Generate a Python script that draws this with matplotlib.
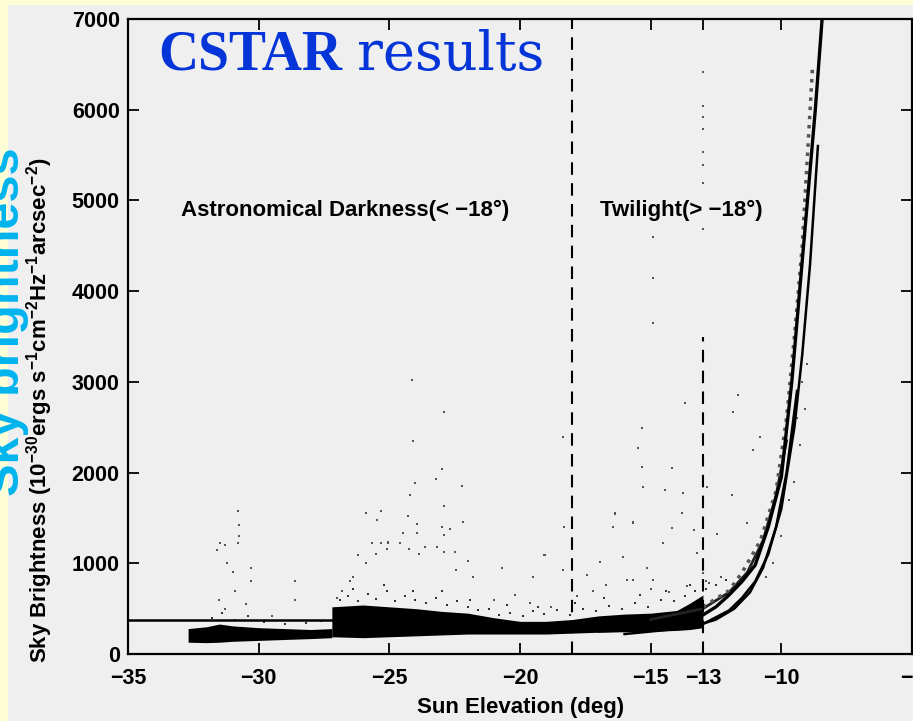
import matplotlib.pyplot as plt
from matplotlib.patches import Rectangle

plt.rcParams['font.family'] = ['Liberation Sans', 'DejaVu Sans']
plt.rcParams['mathtext.fontset'] = 'custom'
plt.rcParams['mathtext.rm'] = 'Liberation Sans:bold'
plt.rcParams['mathtext.default'] = 'rm'

# Data
# steady sky level before -27 deg
level_x = [-35, -27.2]
level_y = [370, 370]

# dense band of measurements, early part (-32.7 .. -27.2)
bandA_x = [-32.7, -32.0, -31.5, -31.0, -30.0, -29.0, -28.0, -27.2]
bandA_lo = [130, 125, 130, 140, 150, 160, 170, 180]
bandA_hi = [280, 300, 330, 310, 290, 280, 270, 280]

# dense band of measurements, main part (-27.2 .. -13)
bandB_x = [-27.2, -26, -25, -24, -23, -22, -21, -20, -19, -18, -17, -16, -15, -14, -13.5, -13]
bandB_lo = [190, 180, 190, 200, 210, 220, 220, 220, 220, 230, 240, 245, 250, 260, 270, 290]
bandB_hi = [520, 540, 520, 500, 470, 450, 400, 360, 360, 380, 420, 440, 450, 480, 560, 650]

# twilight curves
main_x = [-17, -15, -13.5, -13, -12.5, -12, -11.5, -11, -10.5, -10, -9.6, -9.3, -9.0, -8.7, -8.44]
main_y = [330, 340, 390, 430, 520, 650, 800, 980, 1400, 1950, 3000, 4000, 5000, 6000, 7000]
c2_x = [-17, -14, -13, -12, -11.5, -11, -10.5, -10, -9.5, -9.2, -8.9, -8.6]
c2_y = [250, 280, 330, 480, 620, 800, 1100, 1600, 2500, 3300, 4300, 5600]
c3_x = [-16, -13.5, -12.5, -11.8, -11.2, -10.7, -10.2, -9.8, -9.4]
c3_y = [220, 290, 380, 500, 680, 950, 1400, 2000, 2900]
c4_x = [-13, -12, -11.5, -10.8, -10.2, -9.8, -9.5, -9.2, -9.0, -8.8]
c4_y = [520, 700, 900, 1250, 1800, 2600, 3500, 4500, 5500, 6500]
c5_x = [-15, -13, -12, -11.3, -10.7, -10.2, -9.8]
c5_y = [380, 500, 680, 900, 1250, 1750, 2350]

# sparse outlying points
dots_x = [-24.14, -22.92, -24.1, -18.35, -23.0, -23.2, -24.03, -22.23, -24.2, -22.9,
          -30.79, -25.9, -25.3, -30.76, -22.2, -25.47, -24.27, -23.95, -30.76, -31.48,
          -31.29, -31.6, -30.78, -18.3, -19.08, -20.68, -26.2, -25.66, -25.3, -25.06,
          -24.6, -25.5, -25.1, -24.23, -23.85, -23.62, -23.17, -22.92, -22.49, -21.98,
          -22.68, -22.98, -22.92, -24.46, -23.93, -25.89, -16.36, -14.45, -13.75, -15.3,
          -15.66, -16.43, -13.36, -13.24, -14.51, -26.38, -25.68, -25.04, -24.6, -23.19,
          -22.43, -21.79, -20.7, -19.49, -19.04, -18.34, -17.45, -16.94, -16.04, -15.15,
          -14.9, -15.66, -13.0, -12.75, -15.32, -15.47, -15.34, -14.2, -13.68, -14.45,
          -13.81, -12.85, -11.9, -11.84, -11.65, -11.07, -10.82, -11.32, -16.36, -15.66,
          -14.19, -12.47, -13.0, -13.0, -13.0, -13.0, -13.0, -13.0, -13.0, -13.0,
          -14.9, -14.9, -14.9, -31.0, -31.2, -30.9, -31.5, -30.3, -30.3, -28.6,
          -28.6, -31.3, -30.5, -29.5, -26.8, -26.5, -27.0, -21.0, -20.2, -19.6,
          -17.8, -17.2, -16.7, -15.9, -15.0, -14.3, -13.6, -12.9, -12.3, -18.8,
          -9.1, -9.3, -9.5, -9.7, -10.0, -10.3, -10.6, -9.0, -9.2, -9.4]
dots_y = [3020, 2668, 2352, 2390, 2040, 1933, 1885, 1856, 1756, 1632,
          1580, 1555, 1580, 1422, 1455, 1477, 1521, 1337, 1300, 1227,
          1202, 1147, 1227, 1404, 1092, 945, 1092, 1227, 1227, 1227,
          1227, 1103, 1154, 1154, 1103, 1176, 1176, 1129, 1129, 1029,
          1378, 1404, 1312, 1330, 1433, 1000, 1547, 1808, 1771, 1838,
          1448, 1404, 1367, 1110, 1220, 852, 1220, 1240, 1220, 1184,
          926, 852, 945, 852, 1092, 926, 871, 1018, 1073, 945,
          816, 816, 890, 779, 2488, 2268, 2058, 2047, 2764, 1808,
          1551, 1845, 1753, 2671, 2856, 2250, 2396, 1440, 1551, 1459,
          1385, 1327, 6420, 6040, 5920, 5790, 5535, 5390, 5190, 4685,
          3650, 4150, 4600, 900, 1000, 700, 600, 800, 950, 800,
          600, 500, 550, 420, 700, 800, 620, 600, 650, 560,
          640, 700, 760, 820, 720, 680, 750, 800, 850, 520,
          2700, 2300, 1900, 1700, 1300, 1000, 850, 3200, 3000, 2600]

# points crowding just above the dense band
near_x = [-26.9, -26.6, -26.2, -25.8, -25.5, -25.1, -24.8, -24.4, -24.0, -23.6,
          -23.2, -22.8, -22.4, -22.0, -21.6, -21.2, -20.8, -20.4, -19.9, -19.5,
          -19.1, -18.6, -18.1, -17.6, -17.1, -16.6, -16.1, -15.6, -15.1, -14.6,
          -14.1, -13.7, -13.3, -12.9, -12.5, -12.1, -26.4, -25.2, -24.1, -23.0,
          -21.9, -20.5, -19.3, -17.9, -16.8, -15.4, -14.4, -13.5, -31.8, -31.4,
          -30.9, -30.4, -29.8, -29.0, -28.2, -27.6]
near_y = [600, 640, 580, 660, 610, 700, 580, 640, 600, 560,
          620, 540, 580, 520, 480, 500, 430, 450, 420, 470,
          440, 480, 430, 500, 470, 530, 500, 560, 520, 600,
          580, 640, 690, 720, 760, 820, 720, 760, 700, 690,
          600, 540, 520, 560, 620, 650, 700, 760, 400, 450,
          380, 420, 350, 330, 340, 360]

fig = plt.figure(figsize=(9.13, 7.21), dpi=100)
fig.patch.set_facecolor('#FEFED6')
fig.add_artist(Rectangle((8 / 913, 0), 1, (721 - 5) / 721, transform=fig.transFigure,
                         facecolor='#EFEFEF', edgecolor='none', zorder=0))

ax = fig.add_axes([128 / 913, 67 / 721, 784 / 913, 635 / 721])
ax.set_facecolor('#EFEFEF')

ax.plot(level_x, level_y, color='black', lw=1.8)
ax.scatter(dots_x, dots_y, s=3, marker='s', color='#555555', linewidths=0)
ax.scatter(near_x, near_y, s=3, marker='s', color='#333333', linewidths=0)
ax.fill_between(bandA_x, bandA_lo, bandA_hi, color='black', lw=0)
ax.fill_between(bandB_x, bandB_lo, bandB_hi, color='black', lw=0)
ax.plot(c5_x, c5_y, color='#222222', lw=2)
ax.plot(c4_x, c4_y, color='#555555', lw=2.5, ls=':')
ax.plot(c3_x, c3_y, color='black', lw=1.8)
ax.plot(c2_x, c2_y, color='black', lw=1.8)
ax.plot(main_x, main_y, color='black', lw=2.4)

ax.axvline(-18, color='black', lw=1.5, dashes=(6, 4))
ax.plot([-13, -13], [0, 3500], color='black', lw=1.5, dashes=(6, 4))

ax.set_xlim(-35, -5)
ax.set_ylim(0, 7000)
ax.set_xticks([-35, -30, -25, -20, -15, -13, -10, -5])
ax.set_yticks([0, 1000, 2000, 3000, 4000, 5000, 6000, 7000])
ax.tick_params(direction='in', length=8, width=1.3, top=True, right=True,
               labelsize=15.5)
ax.tick_params(axis='x', pad=10)
ax.tick_params(axis='y', pad=6)
for lab in ax.get_xticklabels() + ax.get_yticklabels():
    lab.set_fontweight('bold')
for sp in ax.spines.values():
    sp.set_linewidth(1.6)

ax.text(-32.97, 4884, 'Astronomical Darkness(< \u221218\u00b0)', fontsize=16,
        fontweight='bold', va='center')
ax.text(-16.94, 4884, 'Twilight(> \u221218\u00b0)', fontsize=16,
        fontweight='bold', va='center')

fig.text(158 / 913, 1 - 70 / 721, 'CSTAR', family='Liberation Serif',
         fontweight='bold', fontsize=40, color='#0535D8', va='baseline')
fig.text(357 / 913, 1 - 70 / 721, 'results', family='DejaVu Serif',
         fontsize=39, color='#0535D8', va='baseline')

fig.text(521 / 913, 13 / 721, 'Sun Elevation (deg)', fontsize=16,
         fontweight='bold', ha='center', va='center')
fig.text(40 / 913, 311 / 721,
         r'Sky Brightness (10$^{-30}$ergs s$^{-1}$cm$^{-2}$Hz$^{-1}$arcsec$^{-2}$)',
         fontsize=16, fontweight='bold', rotation=90, ha='center', va='center')

fig.text(19 / 913, 399 / 721, 'Sky brightness', fontsize=35, color='#00B4EE',
         fontweight='bold', rotation=90, rotation_mode='anchor', ha='center',
         va='baseline')

fig.savefig('out.png', dpi=100, facecolor=fig.get_facecolor())
